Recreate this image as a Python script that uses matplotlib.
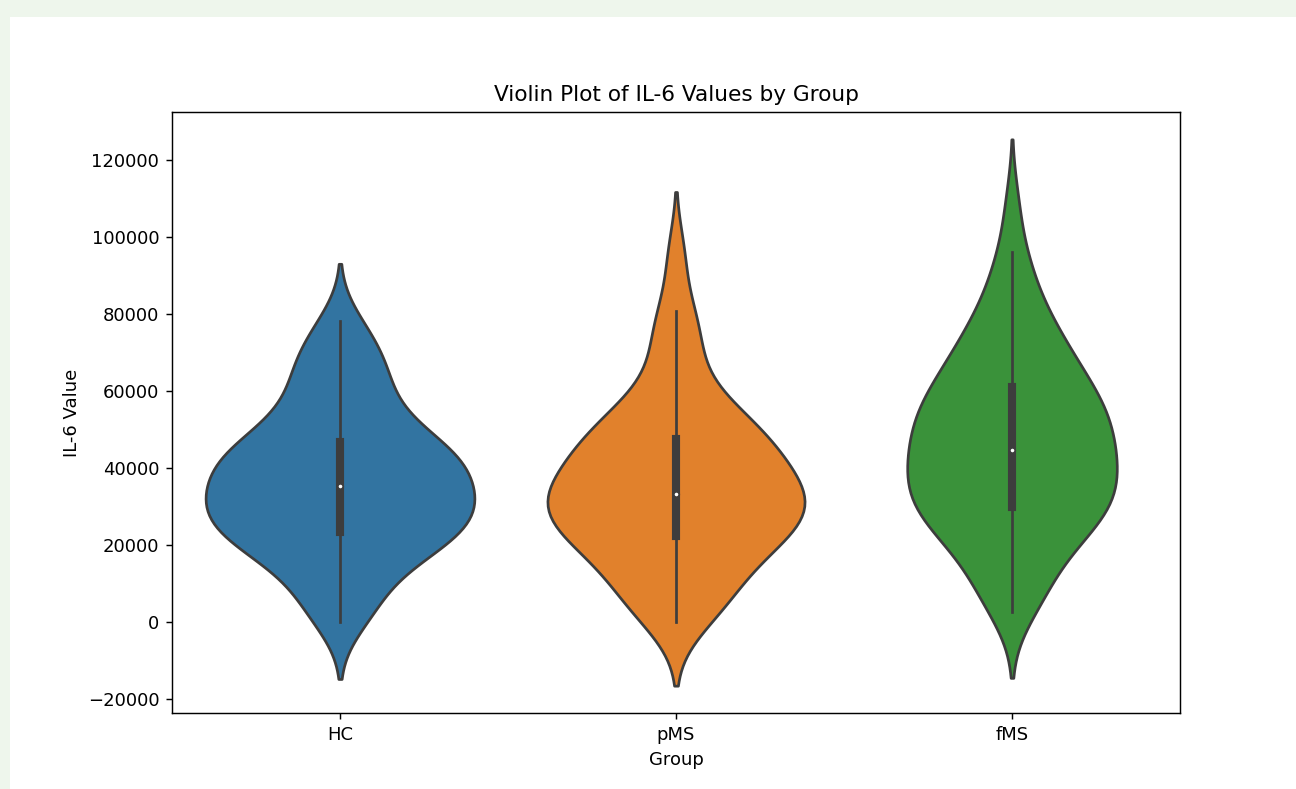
import numpy as np
import matplotlib
matplotlib.use('Agg')
import matplotlib.pyplot as plt
from matplotlib.patches import Rectangle

# ---- data (IL-6 values, estimated from the reference violins) ----
groups = ['HC', 'pMS', 'fMS']

hc_values = [0, 3000, 6000, 9500, 13000, 15800, 17500, 18700, 19800, 20900,
             21900, 22900, 23900, 25400, 26600, 27500, 28300, 29000, 29700, 30500,
             31400, 32500, 33900, 35300, 36400, 37400, 38400, 39400, 40400, 41400,
             42400, 43400, 44400, 45400, 46200, 47600, 49500, 51500, 53800, 56300,
             59000, 61800, 64600, 67400, 70200, 73400, 78300]

pms_values = [0, 2500, 4400, 6500, 8900, 11500, 13800, 15900, 17600, 19100,
              20500, 21700, 22900, 24000, 25000, 26000, 26900, 27900, 28800, 29700,
              30600, 31500, 32400, 33400, 34400, 35400, 36500, 37600, 38800, 40000,
              41400, 42800, 44200, 45600, 46900, 48300, 49600, 50900, 52300, 53900,
              56300, 59800, 65000, 71000, 76500, 80900, 95200]

fms_values = [2600, 4900, 7000, 9500, 12400, 15200, 17500, 19400, 20900, 22300,
              23600, 24700, 25800, 26800, 27800, 28700, 29600, 30500, 31300, 32200,
              33100, 34000, 34900, 35800, 36700, 37600, 38500, 39500, 40400, 41400,
              42400, 43300, 44300, 45300, 46300, 47200, 48200, 49100, 50100, 51100,
              52000, 53000, 53900, 54900, 55900, 56900, 57900, 59000, 60100, 61300,
              62500, 63800, 65200, 66700, 68300, 70000, 71600, 73400, 75300, 77400,
              79800, 82800, 86800, 91500, 96200, 108300]

colors = ['#3274a1', '#e1812c', '#3a923a']
edge_gray = '#3d3d3d'

# ---- figure ----
W, H, DPI = 1296, 789, 130
fig = plt.figure(figsize=(W / DPI, H / DPI), dpi=DPI)
fig.patch.set_facecolor('#eef6ec')
fig.patches.append(Rectangle((10 / W, 0), (W - 10) / W, (H - 17) / H,
                             transform=fig.transFigure, facecolor='white',
                             edgecolor='none', zorder=-1))

ax = fig.add_axes([172 / W, 76 / H, 1008 / W, 601 / H])

datasets = [hc_values, pms_values, fms_values]
bw_adjust = 0.85
cut = 2
gridsize = 100
width = 0.8
lw = 1.5

supports, densities = [], []
for vals in datasets:
    d = np.asarray(vals, dtype=float)
    n = len(d)
    bw = bw_adjust * d.std(ddof=1) * n ** (-0.2)
    support = np.linspace(d.min() - cut * bw, d.max() + cut * bw, gridsize)
    z = (support[:, None] - d[None, :]) / bw
    dens = np.exp(-0.5 * z ** 2).sum(axis=1) / (n * bw * np.sqrt(2 * np.pi))
    supports.append(support)
    densities.append(dens)

max_dens = max(dd.max() for dd in densities)

for i, (vals, support, dens, col) in enumerate(zip(datasets, supports, densities, colors)):
    half = dens / max_dens * width / 2
    ax.fill_betweenx(support, i - half, i + half, facecolor=col,
                     edgecolor=edge_gray, linewidth=lw)
    d = np.asarray(vals, dtype=float)
    q25, q50, q75 = np.percentile(d, [25, 50, 75])
    lim = 1.5 * (q75 - q25)
    h1 = d[d >= q25 - lim].min()
    h2 = d[d <= q75 + lim].max()
    ax.plot([i, i], [h1, h2], linewidth=lw, color=edge_gray)
    ax.plot([i, i], [q25, q75], linewidth=lw * 3, color=edge_gray)
    ax.scatter(i, q50, zorder=3, color='white', edgecolor=edge_gray,
               s=(lw * 2) ** 2)

ax.set_xticks(range(len(groups)))
ax.set_xticklabels(groups)
ax.set_xlim(-0.5, len(groups) - 0.5)
ax.set_xlabel('Group')
ax.set_ylabel('IL-6 Value')
ax.set_title('Violin Plot of IL-6 Values by Group')

fig.savefig('out.png', dpi=DPI, facecolor=fig.get_facecolor())
